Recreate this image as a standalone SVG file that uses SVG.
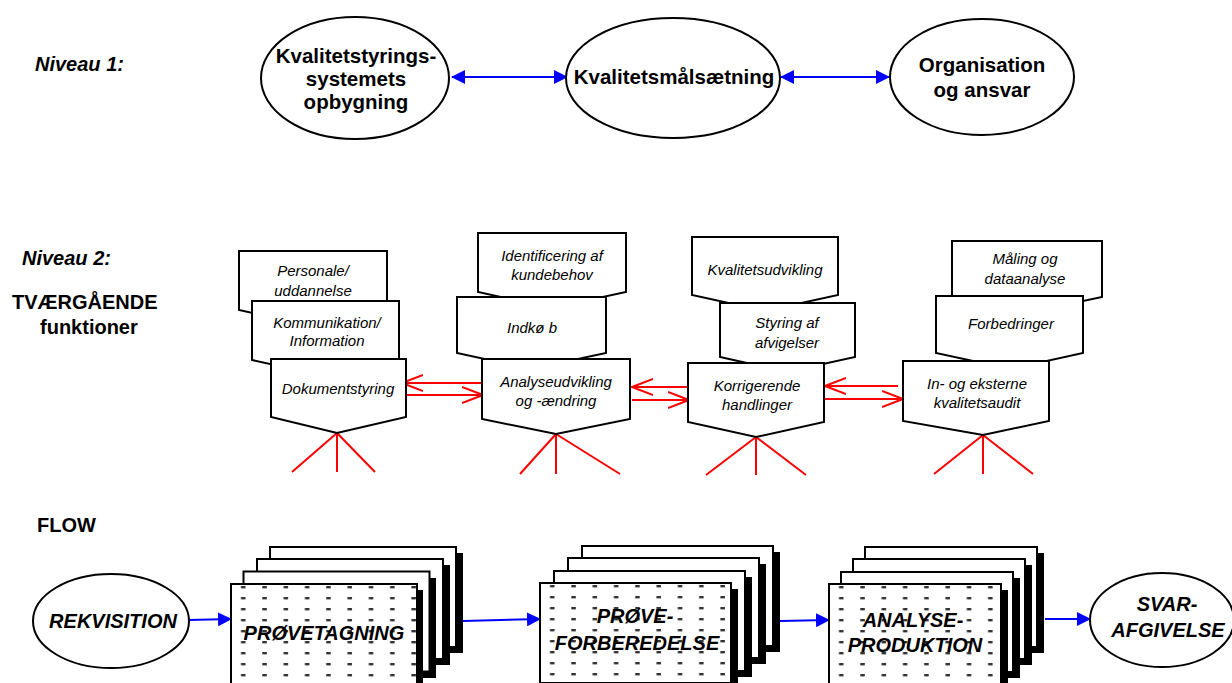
<svg xmlns="http://www.w3.org/2000/svg" width="1232" height="683" viewBox="0 0 1232 683">
<style>
.bg{fill:#fff}
.ell{fill:#fff;stroke:#000;stroke-width:2}
.card{fill:#fff;stroke:#000;stroke-width:2}
.shadow{fill:#000}
.t1{font-family:"Liberation Sans",Arial,sans-serif;font-weight:bold;font-size:20.5px;fill:#000;text-anchor:middle}
.lab{font-family:"Liberation Sans",Arial,sans-serif;font-weight:bold;font-size:20px;fill:#000}
.labi{font-family:"Liberation Sans",Arial,sans-serif;font-weight:bold;font-style:italic;font-size:20px;fill:#000}
.t2{font-family:"Liberation Sans",Arial,sans-serif;font-style:italic;font-size:15px;fill:#000;text-anchor:middle}
.t3{font-family:"Liberation Sans",Arial,sans-serif;font-weight:bold;font-style:italic;font-size:20px;fill:#000;text-anchor:middle}
.blue{stroke:#0000ff;stroke-width:2;fill:none}
.red{stroke:#ff0000;stroke-width:2;fill:none}
</style>
<defs>
<marker id="bh" viewBox="0 0 14 14" refX="13" refY="7" markerWidth="14" markerHeight="14" markerUnits="userSpaceOnUse" orient="auto-start-reverse">
<path d="M0,0 L14,7 L0,14 Z" fill="#0000ff"/>
</marker>
<marker id="rh" viewBox="0 0 22 18" refX="21" refY="9" markerWidth="22" markerHeight="18" markerUnits="userSpaceOnUse" orient="auto">
<path d="M0,1 L21,9 L0,17" fill="none" stroke="#ff0000" stroke-width="2"/>
</marker>
<pattern id="dots" patternUnits="userSpaceOnUse" x="232" y="584" width="21.3" height="11">
<rect x="9" y="2" width="4.5" height="2.4" fill="#333"/>
</pattern>
<pattern id="dots2" patternUnits="userSpaceOnUse" x="541" y="583" width="21.3" height="11">
<rect x="9" y="2" width="4.5" height="2.4" fill="#333"/>
</pattern>
<pattern id="dots3" patternUnits="userSpaceOnUse" x="830" y="584" width="21.3" height="11">
<rect x="9" y="2" width="4.5" height="2.4" fill="#333"/>
</pattern>
</defs>
<rect class="bg" x="0" y="0" width="1232" height="683"/>

<g id="labels">
<text class="labi" x="35" y="71">Niveau 1:</text>
<text class="labi" x="22" y="265">Niveau 2:</text>
<text class="lab" x="12" y="309">TVÆRGÅENDE</text>
<text class="lab" x="40" y="334">funktioner</text>
<text class="lab" x="37" y="532">FLOW</text>
</g>

<g id="connectors">
<line class="blue" x1="452" y1="77" x2="567" y2="77" marker-start="url(#bh)" marker-end="url(#bh)"/>
<line class="blue" x1="781" y1="77" x2="889" y2="77" marker-start="url(#bh)" marker-end="url(#bh)"/>
<line class="red" x1="483" y1="383" x2="402" y2="383" marker-end="url(#rh)"/>
<line class="red" x1="405" y1="395" x2="483" y2="395" marker-end="url(#rh)"/>
<line class="red" x1="688" y1="387" x2="632" y2="387" marker-end="url(#rh)"/>
<line class="red" x1="632" y1="400" x2="689" y2="400" marker-end="url(#rh)"/>
<line class="red" x1="898" y1="386" x2="825" y2="386" marker-end="url(#rh)"/>
<line class="red" x1="825" y1="399" x2="903" y2="399" marker-end="url(#rh)"/>
<path class="red" d="M337,433 L292,472 M337,433 L337,472 M337,433 L375,472"/>
<path class="red" d="M556,434 L520,474 M556,434 L556,474 M556,434 L620,474"/>
<path class="red" d="M756,437 L706,475 M756,437 L756,475 M756,437 L806,475"/>
<path class="red" d="M983,435 L934,474 M983,435 L983,474 M983,435 L1033,474"/>
<line class="blue" x1="189" y1="620" x2="231" y2="619" marker-end="url(#bh)"/>
<line class="blue" x1="463" y1="621" x2="540" y2="619" marker-end="url(#bh)"/>
<line class="blue" x1="780" y1="621" x2="829" y2="620" marker-end="url(#bh)"/>
<line class="blue" x1="1045" y1="619" x2="1090" y2="619" marker-end="url(#bh)"/>
</g>

<g id="n-kss">
<ellipse class="ell" cx="355" cy="78" rx="94" ry="61"/>
<text class="t1" x="356" y="63">Kvalitetstyrings-</text>
<text class="t1" x="356" y="86">systemets</text>
<text class="t1" x="356" y="109">opbygning</text>
</g>
<g id="n-kms">
<ellipse class="ell" cx="673" cy="78" rx="107" ry="60"/>
<text class="t1" x="674" y="84">Kvalitetsmålsætning</text>
</g>
<g id="n-org">
<ellipse class="ell" cx="982" cy="77" rx="92" ry="58"/>
<text class="t1" x="982" y="72">Organisation</text>
<text class="t1" x="982" y="97">og ansvar</text>
</g>

<g id="n-personale">
<path class="card" d="M239,251 H387 V310 L313,326 L239,310 Z"/>
<text class="t2" x="313" y="276">Personale/</text>
<text class="t2" x="313" y="296">uddannelse</text>
</g>
<g id="n-kommunikation">
<path class="card" d="M252,301 H399 V360 L325,376 L252,360 Z"/>
<text class="t2" x="327" y="328">Kommunikation/</text>
<text class="t2" x="327" y="346">Information</text>
</g>
<g id="n-dokumentstyring">
<path class="card" d="M271,359 H406 V417 L337,433 L271,417 Z"/>
<text class="t2" x="338" y="394">Dokumentstyring</text>
</g>

<g id="n-identificering">
<path class="card" d="M478,233 H626 V292 L552,308 L478,292 Z"/>
<text class="t2" x="552" y="261">Identificering af</text>
<text class="t2" x="552" y="280">kundebehov</text>
</g>
<g id="n-indkob">
<path class="card" d="M457,297 H606 V353 L531,369 L457,353 Z"/>
<text class="t2" x="532" y="333">Indkø b</text>
</g>
<g id="n-analyseudvikling">
<path class="card" d="M482,359 H630 V419 L556,434 L482,419 Z"/>
<text class="t2" x="556" y="387">Analyseudvikling</text>
<text class="t2" x="556" y="406">og -ændring</text>
</g>

<g id="n-kvalitetsudvikling">
<path class="card" d="M692,237 H838 V295 L765,311 L692,295 Z"/>
<text class="t2" x="765" y="275">Kvalitetsudvikling</text>
</g>
<g id="n-styring">
<path class="card" d="M720,303 H855 V357 L787,372 L720,357 Z"/>
<text class="t2" x="787" y="328">Styring af</text>
<text class="t2" x="787" y="348">afvigelser</text>
</g>
<g id="n-korrigerende">
<path class="card" d="M688,363 H824 V422 L756,437 L688,422 Z"/>
<text class="t2" x="757" y="391">Korrigerende</text>
<text class="t2" x="757" y="410">handlinger</text>
</g>

<g id="n-maling">
<path class="card" d="M952,241 H1102 V297 L1027,313 L952,297 Z"/>
<text class="t2" x="1025" y="264">Måling og</text>
<text class="t2" x="1025" y="284">dataanalyse</text>
</g>
<g id="n-forbedringer">
<path class="card" d="M936,296 H1083 V353 L1010,369 L936,353 Z"/>
<text class="t2" x="1011" y="329">Forbedringer</text>
</g>
<g id="n-audit">
<path class="card" d="M903,361 H1049 V421 L983,435 L903,421 Z"/>
<text class="t2" x="977" y="389">In- og eksterne</text>
<text class="t2" x="977" y="408">kvalitetsaudit</text>
</g>

<g id="n-rekvisition">
<ellipse class="ell" cx="111" cy="621" rx="78" ry="47"/>
<text class="t3" x="113" y="628">REKVISITION</text>
</g>

<g id="n-provetagning">
<rect class="shadow" x="277" y="553" width="186" height="100"/>
<rect class="card" x="270" y="547" width="186" height="100"/>
<rect class="shadow" x="264" y="565" width="186" height="100"/>
<rect class="card" x="257" y="559" width="186" height="100"/>
<rect class="shadow" x="250" y="578" width="186" height="100"/>
<rect class="card" x="243.5" y="571.5" width="186" height="100"/>
<rect class="shadow" x="237" y="590" width="186" height="100"/>
<rect class="card" x="231" y="584" width="186" height="100"/>
<rect x="231" y="584" width="186" height="100" fill="url(#dots)"/>
<text class="t3" x="324" y="640">PRØVETAGNING</text>
</g>

<g id="n-proveforberedelse">
<rect class="shadow" x="589" y="552" width="191" height="100"/>
<rect class="card" x="582" y="546" width="191" height="100"/>
<rect class="shadow" x="575" y="564" width="191" height="100"/>
<rect class="card" x="568" y="558" width="191" height="100"/>
<rect class="shadow" x="561" y="577" width="191" height="100"/>
<rect class="card" x="554" y="571" width="191" height="100"/>
<rect class="shadow" x="547" y="589" width="191" height="100"/>
<rect class="card" x="540" y="583" width="191" height="100"/>
<rect x="540" y="583" width="191" height="100" fill="url(#dots2)"/>
<text class="t3" x="635" y="623">PRØVE-</text>
<text class="t3" x="637" y="650">FORBEREDELSE</text>
</g>

<g id="n-analyseproduktion">
<rect class="shadow" x="872" y="553" width="172" height="100"/>
<rect class="card" x="865" y="547" width="172" height="100"/>
<rect class="shadow" x="860" y="565" width="172" height="100"/>
<rect class="card" x="853" y="559" width="172" height="100"/>
<rect class="shadow" x="848" y="578" width="172" height="100"/>
<rect class="card" x="841" y="572" width="172" height="100"/>
<rect class="shadow" x="836" y="590" width="172" height="100"/>
<rect class="card" x="829" y="584" width="172" height="100"/>
<rect x="829" y="584" width="172" height="100" fill="url(#dots3)"/>
<text class="t3" x="913" y="627">ANALYSE-</text>
<text class="t3" x="915" y="652">PRODUKTION</text>
</g>

<g id="n-svar">
<ellipse class="ell" cx="1162" cy="620" rx="72" ry="47"/>
<text class="t3" x="1167" y="611">SVAR-</text>
<text class="t3" x="1168" y="637">AFGIVELSE</text>
</g>
</svg>
